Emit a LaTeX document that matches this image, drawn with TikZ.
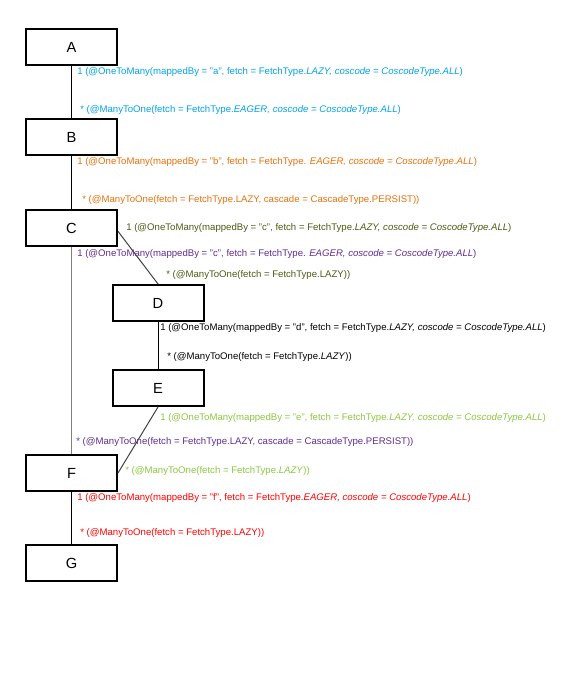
\documentclass[tikz,border=0pt]{standalone}
\usepackage{fontspec}
\setmainfont{Liberation Sans}
\usetikzlibrary{positioning}
\definecolor{clrab}{HTML}{00A2E8}
\definecolor{clrbc}{HTML}{E8700A}
\definecolor{clrcd}{HTML}{4B5A14}
\definecolor{clrcf}{HTML}{5E2C91}
\definecolor{clrde}{HTML}{000000}
\definecolor{clref}{HTML}{8DC63F}
\definecolor{clrfg}{HTML}{FF0000}
\definecolor{clrborder}{HTML}{000000}
\definecolor{clrlink_dark}{HTML}{404040}
\definecolor{clrlink_grey}{HTML}{808080}

\begin{document}
\begin{tikzpicture}[
    x=0.75pt, y=-0.75pt,
    every node/.style={font=\fontsize{7.2}{8}\selectfont},
    entity/.style={draw=clrborder, line width=1.5pt, fill=white, minimum width=68.25pt,
                   minimum height=27pt, inner sep=0, font=\fontsize{11}{13}\selectfont},
    link/.style={line width=0.75pt, color=clrborder},
    role/.style={anchor=west, inner sep=0},
]
\useasboundingbox (0,0) rectangle (567,680);
% entities
\node[entity] (n_a) at (71.5,47) {A};
\node[entity, below=39pt of n_a] (n_b) {B};
\node[entity, below=39.75pt of n_b] (n_c) {C};
\node[entity] (n_d) at (158,303) {D};
\node[entity] (n_e) at (158,388) {E};
\node[entity] (n_f) at (71.5,473) {F};
\node[entity, below=39pt of n_f] (n_g) {G};
% relations
\draw[link] (n_a.south) -- (n_b.north);
\draw[link] (n_b.south) -- (n_c.north);
\draw[link, color=clrlink_grey] (n_c.south) -- (n_f.north);
\draw[link, color=clrlink_dark] ([yshift=-2.5pt]n_c.east) -- (n_d.north);
\draw[link] (n_d.south) -- (n_e.north);
\draw[link, color=clrlink_dark] (n_e.south) -- (n_f.east);
\draw[link] (n_f.south) -- (n_g.north);
% role labels
\node[role, text=clrab] (lbl_ab_1) at (77,72) {1 (@OneToMany(mappedBy = "a", fetch = FetchType.\textit{LAZY, coscode = CoscodeType.ALL})};
\node[role, text=clrab] (lbl_ab_2) at (80,110) {* (@ManyToOne(fetch = FetchType.\textit{EAGER, coscode = CoscodeType.ALL})};
\node[role, text=clrbc] (lbl_bc_1) at (77,162) {1 (@OneToMany(mappedBy = "b", fetch = FetchType. \textit{EAGER, coscode = CoscodeType.ALL})};
\node[role, text=clrbc] (lbl_bc_2) at (82,200) {* (@ManyToOne(fetch = FetchType.LAZY, cascade = CascadeType.PERSIST))};
\node[role, text=clrcd] (lbl_cd_1) at (126,228) {1 (@OneToMany(mappedBy = "c", fetch = FetchType.\textit{LAZY, coscode = CoscodeType.ALL})};
\node[role, text=clrcf] (lbl_cf_1) at (77,254) {1 (@OneToMany(mappedBy = "c", fetch = FetchType. \textit{EAGER, coscode = CoscodeType.ALL})};
\node[role, text=clrcd] (lbl_cd_2) at (166,275) {* (@ManyToOne(fetch = FetchType.LAZY))};
\node[role, text=clrde] (lbl_de_1) at (160,328) {1 (@OneToMany(mappedBy = "d", fetch = FetchType.\textit{LAZY, coscode = CoscodeType.ALL})};
\node[role, text=clrde] (lbl_de_2) at (167,357) {* (@ManyToOne(fetch = FetchType.\textit{LAZY}))};
\node[role, text=clref] (lbl_ef_1) at (160,418) {1 (@OneToMany(mappedBy = "e", fetch = FetchType.\textit{LAZY, coscode = CoscodeType.ALL})};
\node[role, text=clrcf] (lbl_cf_2) at (76,442) {* (@ManyToOne(fetch = FetchType.LAZY, cascade = CascadeType.PERSIST))};
\node[role, text=clref] (lbl_ef_2) at (125,471) {* (@ManyToOne(fetch = FetchType.\textit{LAZY}))};
\node[role, text=clrfg] (lbl_fg_1) at (77,498) {1 (@OneToMany(mappedBy = "f", fetch = FetchType.\textit{EAGER, coscode = CoscodeType.ALL})};
\node[role, text=clrfg] (lbl_fg_2) at (80,533) {* (@ManyToOne(fetch = FetchType.LAZY))};
\end{tikzpicture}
\end{document}
